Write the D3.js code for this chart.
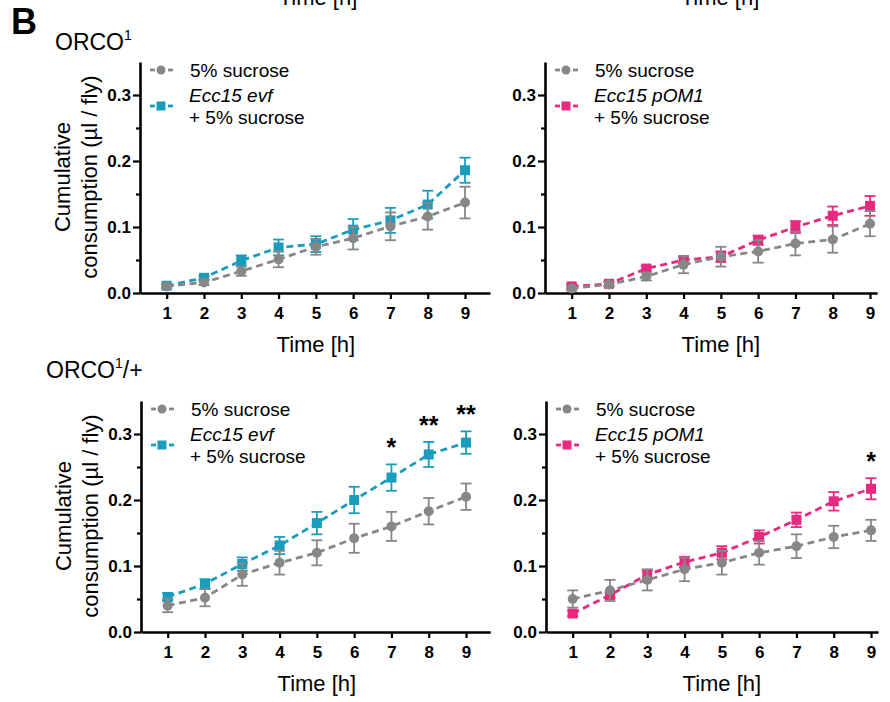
<!DOCTYPE html>
<html>
<head>
<meta charset="utf-8">
<script src="https://cdn.jsdelivr.net/npm/d3@7"></script>
<style>
  body { margin: 0; background: #fff; }
  svg { display: block; font-family: Arial, "Liberation Sans", sans-serif; }
</style>
</head>
<body>
<div id="chart"></div>
<script>
var hours = [1, 2, 3, 4, 5, 6, 7, 8, 9];

// ORCO1 - Ecc15 evf
var orcoSucroseA    = [0.010, 0.016, 0.033, 0.051, 0.070, 0.083, 0.101, 0.116, 0.137];
var orcoSucroseAErr = [0.003, 0.004, 0.007, 0.012, 0.012, 0.017, 0.021, 0.020, 0.024];
var orcoEvf         = [0.011, 0.023, 0.049, 0.069, 0.074, 0.096, 0.110, 0.134, 0.186];
var orcoEvfErr      = [0.003, 0.003, 0.008, 0.012, 0.012, 0.016, 0.019, 0.021, 0.019];

// ORCO1 - Ecc15 pOM1
var orcoSucroseB    = [0.007, 0.013, 0.025, 0.043, 0.055, 0.063, 0.075, 0.081, 0.105];
var orcoSucroseBErr = [0.003, 0.003, 0.006, 0.013, 0.015, 0.017, 0.018, 0.020, 0.019];
var orcoPom         = [0.010, 0.014, 0.037, 0.050, 0.055, 0.080, 0.100, 0.117, 0.132];
var orcoPomErr      = [0.003, 0.003, 0.004, 0.005, 0.008, 0.007, 0.009, 0.014, 0.015];

// ORCO1/+ - Ecc15 evf
var hetSucroseA    = [0.040, 0.052, 0.087, 0.105, 0.120, 0.142, 0.160, 0.183, 0.205];
var hetSucroseAErr = [0.010, 0.013, 0.017, 0.018, 0.019, 0.022, 0.022, 0.020, 0.020];
var hetEvf         = [0.053, 0.073, 0.103, 0.131, 0.165, 0.200, 0.234, 0.269, 0.287];
var hetEvfErr      = [0.006, 0.007, 0.010, 0.013, 0.017, 0.020, 0.020, 0.019, 0.017];
var hetEvfSig      = ["", "", "", "", "", "", "*", "**", "**"];

// ORCO1/+ - Ecc15 pOM1
var hetSucroseB    = [0.050, 0.063, 0.079, 0.095, 0.105, 0.120, 0.130, 0.144, 0.154];
var hetSucroseBErr = [0.013, 0.016, 0.016, 0.018, 0.018, 0.018, 0.018, 0.017, 0.016];
var hetPom         = [0.028, 0.056, 0.087, 0.106, 0.120, 0.144, 0.170, 0.198, 0.217];
var hetPomErr      = [0.004, 0.004, 0.007, 0.008, 0.010, 0.010, 0.011, 0.014, 0.016];
var hetPomSig      = ["", "", "", "", "", "", "", "", "*"];

var yMajor = [0, 0.1, 0.2, 0.3];
var yMinor = [0.05, 0.15, 0.25];

var gray = "#878787", teal = "#1a9dbd", pink = "#e8297f";

var width = 890, height = 702;
var svg = d3.select("#chart").append("svg")
  .attr("width", width)
  .attr("height", height);

svg.append("rect").attr("width", width).attr("height", height).attr("fill", "#fff");

// clipped axis title from the panel above
svg.append("text").attr("x", 318).attr("y", 5).attr("text-anchor", "middle")
  .attr("font-size", 22).text("Time [h]");
svg.append("text").attr("x", 720).attr("y", 5).attr("text-anchor", "middle")
  .attr("font-size", 22).text("Time [h]");

svg.append("text").attr("x", 11).attr("y", 34)
  .attr("font-size", 36).attr("font-weight", "bold").text("B");

var t1 = svg.append("text").attr("x", 55).attr("y", 50).attr("font-size", 23);
t1.append("tspan").text("ORCO");
t1.append("tspan").attr("font-size", 14).attr("dy", -10).text("1");

var t2 = svg.append("text").attr("x", 46).attr("y", 378).attr("font-size", 23);
t2.append("tspan").text("ORCO");
t2.append("tspan").attr("font-size", 14).attr("dy", -10).text("1");
t2.append("tspan").attr("dy", 10).text("/+");

function drawPanel(p) {
  var g = svg.append("g");
  var x = d3.scaleLinear().domain([0.284, p.xMax]).range([p.left, p.left + (p.xMax - 0.284) * 37.29]);
  var y = d3.scaleLinear().domain([0, 0.35]).range([p.bottom, p.bottom - 231]);

  // y axis
  g.append("g").attr("transform", "translate(" + p.left + ",0)")
    .call(d3.axisLeft(y).tickValues(yMajor).tickFormat(d3.format(".1f")).tickSize(7).tickSizeOuter(0).tickPadding(2));
  g.append("g").attr("transform", "translate(" + p.left + ",0)")
    .call(d3.axisLeft(y).tickValues(yMinor).tickFormat("").tickSize(4).tickSizeOuter(0))
    .select(".domain").remove();

  // x axis
  g.append("g").attr("transform", "translate(0," + p.bottom + ")")
    .call(d3.axisBottom(x).tickValues(hours).tickSize(6).tickSizeOuter(0).tickPadding(8));

  g.selectAll(".domain").attr("stroke", "#000").attr("stroke-width", 2.6);
  g.selectAll(".tick line").attr("stroke", "#000").attr("stroke-width", 2.2);
  g.selectAll(".tick text").attr("font-size", 17).attr("font-weight", "bold")
    .attr("font-family", "Arial, 'Liberation Sans', sans-serif").attr("fill", "#000");

  g.append("text").attr("x", x(5)).attr("y", p.bottom + 59).attr("text-anchor", "middle")
    .attr("font-size", 22).text("Time [h]");

  if (p.yTitle) {
    var my = p.bottom - 116;
    g.append("text").attr("transform", "translate(" + (p.left - 70) + "," + my + ") rotate(-90)")
      .attr("text-anchor", "middle").attr("font-size", 22).text("Cumulative");
    g.append("text").attr("transform", "translate(" + (p.left - 43) + "," + my + ") rotate(-90)")
      .attr("text-anchor", "middle").attr("font-size", 22).text("consumption (µl / fly)");
  }

  var line = d3.line().x(function (d) { return x(d.h); }).y(function (d) { return y(d.v); });

  function series(values, errs, color, shape) {
    var pts = hours.map(function (h, i) { return { h: h, v: values[i], e: errs[i] }; });
    var s = g.append("g");
    s.append("path").datum(pts).attr("d", line).attr("fill", "none")
      .attr("stroke", color).attr("stroke-width", 2.8).attr("stroke-dasharray", "7,4.5");
    var eb = s.selectAll(".eb").data(pts).enter().append("g");
    eb.append("line").attr("x1", function (d) { return x(d.h); }).attr("x2", function (d) { return x(d.h); })
      .attr("y1", function (d) { return y(d.v - d.e); }).attr("y2", function (d) { return y(d.v + d.e); })
      .attr("stroke", color).attr("stroke-width", 1.8);
    [-1, 1].forEach(function (sgn) {
      eb.append("line").attr("x1", function (d) { return x(d.h) - 5.5; }).attr("x2", function (d) { return x(d.h) + 5.5; })
        .attr("y1", function (d) { return y(d.v + sgn * d.e); }).attr("y2", function (d) { return y(d.v + sgn * d.e); })
        .attr("stroke", color).attr("stroke-width", 1.8);
    });
    if (shape === "circle") {
      s.selectAll("circle").data(pts).enter().append("circle")
        .attr("cx", function (d) { return x(d.h); }).attr("cy", function (d) { return y(d.v); })
        .attr("r", 5).attr("fill", color);
    } else {
      s.selectAll("rect").data(pts).enter().append("rect")
        .attr("x", function (d) { return x(d.h) - 5; }).attr("y", function (d) { return y(d.v) - 5; })
        .attr("width", 10).attr("height", 10).attr("fill", color);
    }
    return pts;
  }

  var cp = series(p.treat, p.treatErr, p.color, "square");
  series(p.ctrl, p.ctrlErr, gray, "circle");

  if (p.sig) {
    g.selectAll(".sig").data(cp).enter().append("text")
      .attr("x", function (d) { return x(d.h); })
      .attr("y", function (d) { return y(d.v + d.e) - 8; })
      .attr("text-anchor", "middle").attr("font-size", 25).attr("font-weight", "bold")
      .text(function (d, i) { return p.sig[i]; });
  }

  // legend
  var top = p.bottom - 231;
  var lx = p.left + 21;
  var lg = g.append("g");
  function legendMark(cy, color, shape) {
    lg.append("line").attr("x1", lx - 11).attr("x2", lx - 6).attr("y1", cy).attr("y2", cy)
      .attr("stroke", color).attr("stroke-width", 2.8);
    lg.append("line").attr("x1", lx + 7).attr("x2", lx + 12).attr("y1", cy).attr("y2", cy)
      .attr("stroke", color).attr("stroke-width", 2.8);
    if (shape === "circle") lg.append("circle").attr("cx", lx).attr("cy", cy).attr("r", 4.5).attr("fill", color);
    else lg.append("rect").attr("x", lx - 4.5).attr("y", cy - 4.5).attr("width", 9).attr("height", 9).attr("fill", color);
  }
  legendMark(top + 8, gray, "circle");
  lg.append("text").attr("x", p.left + 50).attr("y", top + 14.5).attr("font-size", 19).text("5% sucrose");
  legendMark(top + 44, p.color, "square");
  lg.append("text").attr("x", p.left + 49).attr("y", top + 40).attr("font-size", 19)
    .attr("font-style", "italic").text(p.treatName);
  lg.append("text").attr("x", p.left + 49).attr("y", top + 62).attr("font-size", 19).text("+ 5% sucrose");
}

drawPanel({ left: 140, bottom: 293, xMax: 9.67, yTitle: true, color: teal, treatName: "Ecc15 evf",
  ctrl: orcoSucroseA, ctrlErr: orcoSucroseAErr, treat: orcoEvf, treatErr: orcoEvfErr });
drawPanel({ left: 545, bottom: 293, xMax: 9.19, yTitle: false, color: pink, treatName: "Ecc15 pOM1",
  ctrl: orcoSucroseB, ctrlErr: orcoSucroseBErr, treat: orcoPom, treatErr: orcoPomErr });
drawPanel({ left: 141, bottom: 632, xMax: 9.65, yTitle: true, color: teal, treatName: "Ecc15 evf",
  ctrl: hetSucroseA, ctrlErr: hetSucroseAErr, treat: hetEvf, treatErr: hetEvfErr, sig: hetEvfSig });
drawPanel({ left: 546, bottom: 632, xMax: 9.19, yTitle: false, color: pink, treatName: "Ecc15 pOM1",
  ctrl: hetSucroseB, ctrlErr: hetSucroseBErr, treat: hetPom, treatErr: hetPomErr, sig: hetPomSig });
</script>
</body>
</html>
